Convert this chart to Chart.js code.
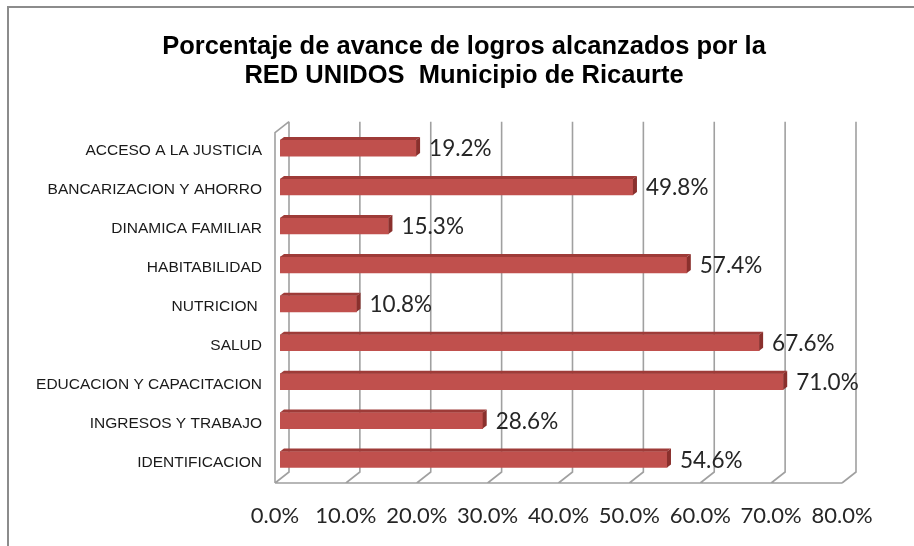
<!DOCTYPE html>
<html>
<head>
<meta charset="utf-8">
<script src="https://cdn.jsdelivr.net/npm/chart.js@4/dist/chart.umd.min.js"></script>
<style>
  html, body { margin: 0; padding: 0; background: #ffffff; }
  #wrap { width: 914px; height: 546px; position: relative; }
</style>
</head>
<body>
<div id="wrap"><canvas id="c" width="914" height="546"></canvas></div>
<script>
const titleLines = ['Porcentaje de avance de logros alcanzados por la', 'RED UNIDOS  Municipio de Ricaurte'];
const categories = [
  'ACCESO A LA JUSTICIA',
  'BANCARIZACION Y AHORRO',
  'DINAMICA FAMILIAR',
  'HABITABILIDAD',
  'NUTRICION ',
  'SALUD',
  'EDUCACION Y CAPACITACION',
  'INGRESOS Y TRABAJO',
  'IDENTIFICACION'
];
const values = [19.2, 49.8, 15.3, 57.4, 10.8, 67.6, 71.0, 28.6, 54.6];
const xMin = 0, xMax = 80, xStep = 10;
const fmtPct = v => Number(v).toFixed(1) + '%';

const DX = 14, DY = 11; // depth of the 3D walls
const BAR_DX = 4, BAR_DY = 3; // depth of bars

const framePlugin = {
  id: 'frame',
  beforeDraw(chart) {
    const ctx = chart.ctx;
    ctx.save();
    ctx.fillStyle = '#ffffff';
    ctx.fillRect(0, 0, chart.width, chart.height);
    ctx.strokeStyle = '#8c8c8c';
    ctx.lineWidth = 2;
    ctx.beginPath();
    ctx.moveTo(8, chart.height + 2);
    ctx.lineTo(8, 7);
    ctx.lineTo(chart.width + 2, 7);
    ctx.stroke();
    ctx.restore();
  }
};

const wallsPlugin = {
  id: 'walls',
  beforeDatasetsDraw(chart) {
    const ctx = chart.ctx;
    const xs = chart.scales.x;
    const a = chart.chartArea;
    const backTop = a.top - 7, backBottom = a.bottom - 7;
    const frontBottom = backBottom + DY;
    const back = v => xs.getPixelForValue(v) + 9;
    ctx.save();
    ctx.strokeStyle = '#a0a0a0';
    ctx.lineWidth = 1.6;
    ctx.beginPath();
    for (let v = xMin; v <= xMax + 1e-9; v += xStep) {
      const xb = back(v);
      ctx.moveTo(xb, backTop);
      ctx.lineTo(xb, backBottom);
      ctx.lineTo(xb - DX, frontBottom);
    }
    ctx.moveTo(back(xMin) - DX, frontBottom);
    ctx.lineTo(back(xMax) - DX, frontBottom);
    ctx.moveTo(back(xMin) - DX, frontBottom);
    ctx.lineTo(back(xMin) - DX, backTop + DY);
    ctx.lineTo(back(xMin), backTop);
    ctx.stroke();
    ctx.restore();
  },
  afterDatasetsDraw(chart) {
    const ctx = chart.ctx;
    const meta = chart.getDatasetMeta(0);
    ctx.save();
    meta.data.forEach((bar, i) => {
      const x0 = bar.base, x1 = bar.x;
      const top = bar.y - bar.height / 2, bottom = bar.y + bar.height / 2;
      ctx.fillStyle = '#9e3b38';
      ctx.beginPath();
      ctx.moveTo(x0, top);
      ctx.lineTo(x1, top);
      ctx.lineTo(x1 + BAR_DX, top - BAR_DY);
      ctx.lineTo(x0 + BAR_DX, top - BAR_DY);
      ctx.closePath();
      ctx.fill();
      ctx.fillStyle = '#8a302d';
      ctx.beginPath();
      ctx.moveTo(x1, top);
      ctx.lineTo(x1 + BAR_DX, top - BAR_DY);
      ctx.lineTo(x1 + BAR_DX, bottom - BAR_DY);
      ctx.lineTo(x1, bottom);
      ctx.closePath();
      ctx.fill();
      ctx.fillStyle = '#262626';
      ctx.font = '22.5px Lato';
      ctx.textAlign = 'left';
      ctx.textBaseline = 'middle';
      ctx.fillText(fmtPct(values[i]), x1 + 13, bar.y + 1);
    });
    ctx.restore();
  }
};

new Chart(document.getElementById('c'), {
  type: 'bar',
  data: {
    labels: categories,
    datasets: [{
      data: values,
      backgroundColor: '#c0504d',
      borderWidth: 0,
      barThickness: 16
    }]
  },
  options: {
    indexAxis: 'y',
    responsive: false,
    animation: false,
    devicePixelRatio: 1,
    layout: { padding: { left: 14, right: 0, top: 0, bottom: 0 } },
    plugins: {
      legend: { display: false },
      tooltip: { enabled: false },
      title: {
        display: true,
        text: titleLines,
        color: '#000000',
        font: { family: 'Liberation Sans', size: 25.5, weight: 'bold', lineHeight: 1.15 },
        padding: { top: 32, bottom: 38 }
      }
    },
    scales: {
      x: {
        type: 'linear',
        min: xMin,
        max: xMax,
        grid: { display: false, drawTicks: false },
        border: { display: false },
        ticks: {
          stepSize: xStep,
          callback: v => fmtPct(v),
          color: '#262626',
          font: { family: 'Lato', size: 22 },
          padding: 24,
          labelOffset: -5,
          maxRotation: 0,
          autoSkip: false
        },
        afterFit: s => { s.height = 67; }
      },
      y: {
        grid: { display: false, drawTicks: false },
        border: { display: false },
        ticks: {
          color: '#1a1a1a',
          font: { family: 'Liberation Sans', size: 15.5 },
          padding: 18,
          labelOffset: 3,
          autoSkip: false
        },
        afterFit: s => { s.width = 266; }
      },
      y2: {
        type: 'linear',
        position: 'right',
        display: true,
        grid: { display: false, drawTicks: false },
        border: { display: false },
        ticks: { display: false },
        afterFit: s => { s.width = 67; }
      }
    }
  },
  plugins: [framePlugin, wallsPlugin]
});
</script>
</body>
</html>
